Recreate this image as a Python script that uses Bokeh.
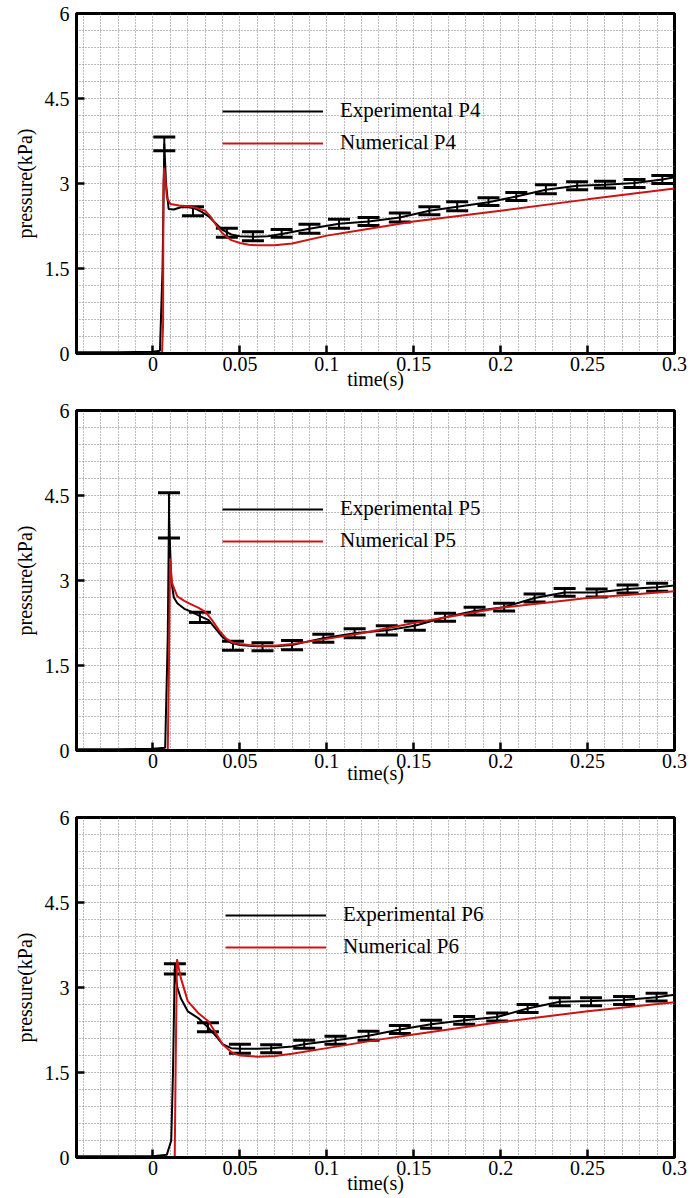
from bokeh.plotting import figure
from bokeh.layouts import column
from bokeh.models import (ColumnDataSource, Whisker, TeeHead, FixedTicker, Range1d)
from bokeh.embed import file_html
from bokeh.resources import INLINE

FONT = "'Liberation Serif', 'Times New Roman', serif"
RED = "#cc1414"

# ---------------- data ----------------
x_ticks = [0, 0.05, 0.1, 0.15, 0.2, 0.25, 0.3]
x_tick_labels = ["0", "0.05", "0.1", "0.15", "0.2", "0.25", "0.3"]
y_ticks = [0, 1.5, 3, 4.5, 6]
y_tick_labels = ["0", "1.5", "3", "4.5", "6"]

# P4
exp4_t = [-0.044, -0.02, 0.0, 0.004, 0.0055, 0.0065, 0.0075, 0.009, 0.012, 0.016, 0.02, 0.024, 0.028,
          0.032, 0.036, 0.04, 0.045, 0.05, 0.058, 0.066, 0.074, 0.09, 0.107, 0.124, 0.142, 0.159, 0.175,
          0.193, 0.209, 0.226, 0.244, 0.26, 0.277, 0.293, 0.3]
exp4_p = [0.02, 0.02, 0.03, 0.05, 1.5, 3.7, 3.0, 2.55, 2.54, 2.58, 2.59, 2.56, 2.5, 2.42, 2.3, 2.18,
          2.1, 2.07, 2.06, 2.07, 2.11, 2.2, 2.29, 2.33, 2.4, 2.52, 2.59, 2.67, 2.77, 2.89, 2.96, 2.98,
          3.01, 3.07, 3.11]
num4_t = [-0.044, 0.0, 0.0052, 0.0058, 0.006, 0.0065, 0.008, 0.01, 0.015, 0.02, 0.025, 0.03, 0.033,
          0.036, 0.04, 0.045, 0.05, 0.055, 0.06, 0.07, 0.08, 0.1, 0.12, 0.15, 0.2, 0.25, 0.3]
num4_p = [0.0, 0.0, 0.0, 0.5, 3.0, 3.28, 2.75, 2.64, 2.61, 2.6, 2.57, 2.52, 2.42, 2.28, 2.12, 2.0,
          1.95, 1.92, 1.91, 1.91, 1.94, 2.08, 2.18, 2.33, 2.52, 2.72, 2.91]
eb4_t = [0.0065, 0.023, 0.0425, 0.0575, 0.074, 0.090, 0.107, 0.124, 0.142, 0.159, 0.175, 0.193,
         0.209, 0.226, 0.244, 0.260, 0.277, 0.293]
eb4_p = [3.70, 2.51, 2.13, 2.07, 2.12, 2.20, 2.29, 2.33, 2.40, 2.52, 2.60, 2.68, 2.77, 2.90, 2.96,
         2.98, 3.00, 3.07]
eb4_e = [0.12, 0.08, 0.08, 0.08, 0.07, 0.08, 0.08, 0.07, 0.08, 0.07, 0.08, 0.07, 0.07, 0.08, 0.07,
         0.06, 0.07, 0.07]

# P5
exp5_t = [-0.044, -0.02, 0.0, 0.007, 0.0085, 0.0092, 0.0105, 0.012, 0.014, 0.018, 0.022, 0.027,
          0.032, 0.036, 0.04, 0.045, 0.05, 0.06, 0.07, 0.08, 0.09, 0.098, 0.116, 0.1345, 0.1506,
          0.168, 0.185, 0.202, 0.2195, 0.2368, 0.2552, 0.273, 0.29, 0.3]
exp5_p = [0.02, 0.02, 0.03, 0.05, 2.0, 4.15, 3.0, 2.7, 2.6, 2.5, 2.45, 2.37, 2.3, 2.15, 2.0, 1.9,
          1.86, 1.84, 1.84, 1.86, 1.93, 1.98, 2.07, 2.12, 2.2, 2.35, 2.46, 2.53, 2.69, 2.79, 2.79,
          2.85, 2.88, 2.91]
num5_t = [-0.044, 0.0, 0.0085, 0.0092, 0.0098, 0.011, 0.014, 0.018, 0.022, 0.026, 0.03, 0.034,
          0.038, 0.042, 0.046, 0.05, 0.055, 0.06, 0.07, 0.08, 0.1, 0.12, 0.15, 0.2, 0.25, 0.3]
num5_p = [0.0, 0.0, 0.0, 1.5, 3.39, 2.95, 2.72, 2.64, 2.58, 2.52, 2.45, 2.3, 2.12, 1.98, 1.9, 1.88,
          1.86, 1.85, 1.85, 1.88, 1.97, 2.07, 2.25, 2.52, 2.69, 2.81]
eb5_t = [0.0092, 0.027, 0.046, 0.063, 0.080, 0.098, 0.116, 0.1345, 0.1506, 0.168, 0.185, 0.202,
         0.2195, 0.2368, 0.2552, 0.273, 0.290]
eb5_p = [4.15, 2.35, 1.85, 1.83, 1.86, 1.98, 2.07, 2.12, 2.2, 2.35, 2.46, 2.53, 2.69, 2.79, 2.78,
         2.85, 2.88]
eb5_e = [0.40, 0.09, 0.08, 0.07, 0.08, 0.07, 0.08, 0.08, 0.08, 0.07, 0.07, 0.07, 0.07, 0.07, 0.07,
         0.07, 0.07]

# P6
exp6_t = [-0.044, -0.02, 0.0, 0.008, 0.0105, 0.0115, 0.0125, 0.014, 0.016, 0.02, 0.026, 0.0316,
          0.036, 0.04, 0.045, 0.05, 0.06, 0.068, 0.08, 0.087, 0.105, 0.124, 0.142, 0.16, 0.179,
          0.198, 0.2155, 0.234, 0.252, 0.271, 0.2897, 0.3]
exp6_p = [0.02, 0.02, 0.02, 0.05, 0.3, 1.5, 3.33, 3.0, 2.81, 2.58, 2.46, 2.3, 2.15, 2.0, 1.93, 1.92,
          1.92, 1.93, 1.96, 2.0, 2.07, 2.15, 2.26, 2.35, 2.42, 2.48, 2.63, 2.75, 2.76, 2.78, 2.83, 2.87]
num6_t = [-0.044, 0.0, 0.0125, 0.013, 0.0138, 0.016, 0.02, 0.026, 0.032, 0.036, 0.04, 0.045, 0.05,
          0.06, 0.07, 0.08, 0.1, 0.13, 0.15, 0.2, 0.25, 0.3]
num6_p = [0.0, 0.0, 0.0, 1.5, 3.5, 3.17, 2.76, 2.55, 2.4, 2.2, 2.0, 1.86, 1.8, 1.78, 1.79, 1.83,
          1.93, 2.08, 2.17, 2.39, 2.58, 2.74]
eb6_t = [0.0126, 0.0316, 0.050, 0.068, 0.087, 0.105, 0.124, 0.142, 0.160, 0.179, 0.198, 0.2155,
         0.234, 0.252, 0.271, 0.2897]
eb6_p = [3.33, 2.3, 1.92, 1.92, 2.0, 2.07, 2.15, 2.26, 2.35, 2.42, 2.48, 2.63, 2.75, 2.75, 2.77, 2.83]
eb6_e = [0.09, 0.08, 0.08, 0.07, 0.07, 0.07, 0.08, 0.07, 0.07, 0.07, 0.07, 0.07, 0.07, 0.07, 0.07,
         0.07]

X_START, X_END = -0.044, 0.3
Y_START, Y_END = 0, 6


def make_panel(exp_t, exp_p, num_t, num_p, eb_t, eb_p, eb_e, name, height, top, bottom,
               label_standoff, leg_x, leg_y):
    p = figure(width=694, height=height, output_backend="svg", toolbar_location=None,
               x_range=Range1d(X_START, X_END), y_range=Range1d(Y_START, Y_END),
               min_border_left=76, min_border_right=20, min_border_top=top,
               min_border_bottom=bottom, title=None)
    p.outline_line_color = "black"
    p.outline_line_width = 3
    p.background_fill_color = "white"
    p.border_fill_color = "white"

    # grid
    p.xgrid.ticker = FixedTicker(ticks=[round(-0.04 + 0.01 * i, 3) for i in range(35)])
    p.ygrid.ticker = FixedTicker(ticks=[round(0.3 * i, 2) for i in range(21)])
    for g in (p.xgrid, p.ygrid):
        g.grid_line_color = "#7a7a7a"
        g.grid_line_dash = "1 2"
        g.grid_line_width = 1

    # axes
    p.xaxis.ticker = FixedTicker(ticks=x_ticks)
    p.xaxis.major_label_overrides = {t: l for t, l in zip(x_ticks, x_tick_labels)}
    p.yaxis.ticker = FixedTicker(ticks=y_ticks)
    p.yaxis.major_label_overrides = {t: l for t, l in zip(y_ticks, y_tick_labels)}
    for ax in (p.xaxis, p.yaxis):
        ax.axis_line_width = 3
        ax.axis_line_color = "black"
        ax.major_tick_in = 8
        ax.major_tick_out = 0
        ax.major_tick_line_width = 2.5
        ax.minor_tick_line_color = None
        ax.major_label_text_font = FONT
        ax.major_label_text_font_size = "20px"
        ax.major_label_text_color = "black"
        ax.axis_label_text_font = FONT
        ax.axis_label_text_font_size = "20px"
        ax.axis_label_text_font_style = "normal"
        ax.axis_label_text_color = "black"
    p.xaxis.major_label_standoff = 3
    p.yaxis.major_label_standoff = 7
    p.yaxis.axis_label = "pressure(kPa)"
    p.yaxis.axis_label_standoff = 6
    p.xaxis.axis_label = "time(s)"
    p.xaxis.axis_label_standoff = label_standoff

    # error bars
    src = ColumnDataSource(data=dict(t=eb_t, lo=[v - e for v, e in zip(eb_p, eb_e)],
                                     hi=[v + e for v, e in zip(eb_p, eb_e)]))
    w = Whisker(source=src, base="t", upper="hi", lower="lo", dimension="height",
                line_color="black", line_width=2,
                upper_head=TeeHead(size=22, line_width=3, line_color="black"),
                lower_head=TeeHead(size=22, line_width=3, line_color="black"))
    p.add_layout(w)

    p.line(exp_t, exp_p, line_color="black", line_width=2, legend_label="Experimental " + name)
    p.line(num_t, num_p, line_color=RED, line_width=2, legend_label="Numerical " + name)

    lg = p.legend[0]
    lg.location = (leg_x, leg_y)
    lg.padding = 0
    lg.margin = 0
    lg.spacing = 7
    lg.glyph_height = 20
    lg.label_height = 20
    lg.glyph_width = 101
    lg.label_standoff = 17
    lg.background_fill_alpha = 0
    lg.border_line_alpha = 0
    lg.label_text_font = FONT
    lg.label_text_font_size = "21px"
    lg.label_text_color = "black"
    return p


p1 = make_panel(exp4_t, exp4_p, num4_t, num4_p, eb4_t, eb4_p, eb4_e, "P4", 395, 13, 42,
                -6, 146, 198)
p2 = make_panel(exp5_t, exp5_p, num5_t, num5_p, eb5_t, eb5_p, eb5_e, "P5", 407, 15, 52,
                -9, 146, 197)
p3 = make_panel(exp6_t, exp6_p, num6_t, num6_p, eb6_t, eb6_p, eb6_e, "P6", 396, 15, 41,
                -6, 149, 198)

layout = column(p1, p2, p3, spacing=0)
open("out.html", "w").write(file_html(layout, INLINE))
